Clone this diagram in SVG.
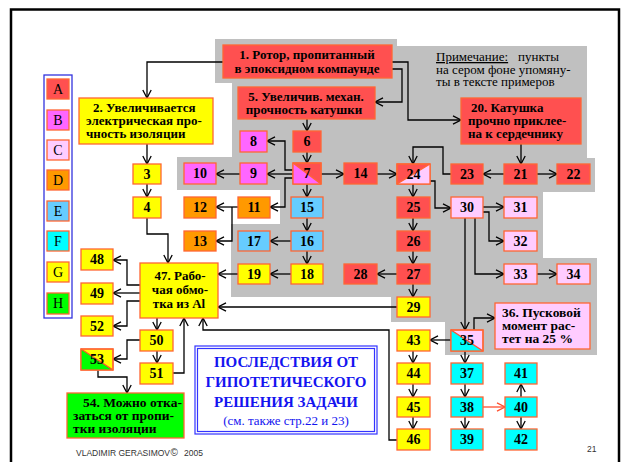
<svg xmlns="http://www.w3.org/2000/svg" width="621" height="462" viewBox="0 0 621 462">
<defs>
<style>
.bx{stroke:#ff6633;stroke-width:1.3}
.R{fill:#ff5050}.M{fill:#ff66ff}.P{fill:#ffccff}.O{fill:#ff9900}.E{fill:#66ccff}.C{fill:#00ffff}.Y{fill:#ffff00}.G{fill:#00ff00}
.n{font-family:"Liberation Serif",serif;font-weight:bold;font-size:14px;fill:#000;text-anchor:middle}
.t{font-family:"Liberation Serif",serif;font-weight:bold;font-size:13px;fill:#000}
.lg{font-family:"Liberation Serif",serif;font-size:14px;fill:#000;text-anchor:middle}
.note{font-family:"Liberation Serif",serif;font-size:13px;fill:#000}
.ti{font-family:"Liberation Serif",serif;font-weight:bold;font-size:15px;fill:#1414f0;text-anchor:middle}
.c path{fill:none;stroke:#000;stroke-width:1.3;marker-end:url(#a)}
.ft{font-family:"Liberation Sans",sans-serif;font-size:8.5px;fill:#333}
</style>
<marker id="a" markerUnits="userSpaceOnUse" markerWidth="10" markerHeight="10" viewBox="0 0 10 10" refX="9" refY="5" orient="auto"><path d="M1,0.8 L9,5 L1,9.2" fill="none" stroke="#000" stroke-width="1.3"/></marker>
<marker id="ar" markerUnits="userSpaceOnUse" markerWidth="10" markerHeight="10" viewBox="0 0 10 10" refX="9" refY="5" orient="auto"><path d="M1,0.8 L9,5 L1,9.2" fill="none" stroke="#ff5030" stroke-width="1.3"/></marker>
</defs>
<rect width="621" height="462" fill="#fff"/>
<rect x="11" y="9.5" width="608" height="470" fill="none" stroke="#000" stroke-width="2.5"/>
<polygon fill="#c0c0c0" points="215,39 397,39 397,46 587,46 587,158 595,158 595,192 543,192 543,258 597,258 597,355 445,355 445,322 391,322 391,297 231,297 231,224 280,224 280,190 177,190 177,157 232,157 232,83 215,83"/>

<g id="legend">
<rect x="44" y="75" width="28" height="243" fill="none" stroke="#3333dd" stroke-width="1.3"/>
<rect class="bx R" x="47" y="79" width="22" height="20"/><text class="lg" x="58" y="94">A</text>
<rect class="bx M" x="47" y="110" width="22" height="20"/><text class="lg" x="58" y="125">B</text>
<rect class="bx P" x="47" y="140" width="22" height="20"/><text class="lg" x="58" y="155">C</text>
<rect class="bx O" x="47" y="170" width="22" height="20"/><text class="lg" x="58" y="185">D</text>
<rect class="bx E" x="47" y="201" width="22" height="20"/><text class="lg" x="58" y="216">E</text>
<rect class="bx C" x="47" y="231" width="22" height="20"/><text class="lg" x="58" y="246">F</text>
<rect class="bx Y" x="47" y="262" width="22" height="20"/><text class="lg" x="58" y="277">G</text>
<rect class="bx G" x="47" y="293" width="22" height="21"/><text class="lg" x="58" y="308">H</text>
</g>

<g id="note">
<text class="note" x="436" y="61"><tspan text-decoration="underline">Примечание:</tspan><tspan x="518">пункты</tspan></text>
<text class="note" x="436" y="74">на сером фоне упомяну-</text>
<text class="note" x="436" y="86">ты в тексте примеров</text>
</g>

<g class="c" id="connectors">
<path d="M223,62 H147 V98"/>
<path d="M392,69 H402 V102 H375"/>
<path d="M392,62 H408 V120 H461"/>
<path d="M147,144 V164"/>
<path d="M147,184 V197"/>
<path d="M147,218 V234 H168 V263"/>
<path d="M307,119 V131"/>
<path d="M307,152 V163"/>
<path d="M293,170 H285 V141 H267"/>
<path d="M293,174 H267"/>
<path d="M293,178 H285 V207 H270"/>
<path d="M240,174 H216"/>
<path d="M238,207 H216"/>
<path d="M232,207 V241 H216"/>
<path d="M321,174 H344"/>
<path d="M377,174 H397"/>
<path d="M307,184 V197"/>
<path d="M307,218 V231"/>
<path d="M291,241 H270"/>
<path d="M307,251 V264"/>
<path d="M291,274 H270"/>
<path d="M238,274 H218"/>
<path d="M521,144 V164"/>
<path d="M537,174 H557"/>
<path d="M504,174 H483"/>
<path d="M451,174 H443 V147 H413 V164"/>
<path d="M413,184 V197"/>
<path d="M413,218 V231"/>
<path d="M413,251 V264"/>
<path d="M413,284 V297"/>
<path d="M397,274 H377"/>
<path d="M430,181 H435 V208 H451"/>
<path d="M483,207 H504"/>
<path d="M483,212 H489 V241 H504"/>
<path d="M475,218 V274 H504"/>
<path d="M537,274 H557"/>
<path d="M465,218 V330"/>
<path d="M474,330 V318 H495"/>
<path d="M451,340 H430"/>
<path d="M465,351 V363"/>
<path d="M465,384 V397"/>
<path d="M465,417 V429"/>
<path d="M483,407 H505" style="stroke:#ff5030;marker-end:url(#ar)"/>
<path d="M521,397 V384"/>
<path d="M521,417 V429"/>
<path d="M413,351 V363"/>
<path d="M413,384 V397"/>
<path d="M413,417 V429"/>
<path d="M397,440 H389 V330 H203 V318"/>
<path d="M397,307 H218"/>
<path d="M173,373 H184 V318"/>
<path d="M157,318 V330"/>
<path d="M157,351 V363"/>
<path d="M140,340 H127 V359 H113"/>
<path d="M98,370 V377 H127 V393"/>
<path d="M140,285 H127 V260 H113"/>
<path d="M140,293 H113"/>
<path d="M140,301 H127 V326 H113"/>
</g>

<g id="n1"><rect class="bx R" x="223" y="45" width="169" height="33"/><text class="t" x="307" y="59" text-anchor="middle">1. Ротор, пропитанный</text><text class="t" x="307" y="73" text-anchor="middle">в эпоксидном компаунде</text></g>
<g id="n2"><rect class="bx Y" x="79" y="98" width="134" height="46"/><text class="t" x="93" y="112">2. Увеличивается</text><text class="t" x="86" y="125">электрическая про-</text><text class="t" x="86" y="138">чность изоляции</text></g>
<g id="n3"><rect class="bx Y" x="133" y="164" width="28" height="20"/><text class="n" x="147" y="179">3</text></g>
<g id="n4"><rect class="bx Y" x="133" y="197" width="28" height="21"/><text class="n" x="147" y="212">4</text></g>
<g id="n5"><rect class="bx R" x="238" y="87" width="137" height="32"/><text class="t" x="306" y="101" text-anchor="middle">5. Увеличив. механ.</text><text class="t" x="304" y="114" text-anchor="middle">прочность катушки</text></g>
<g id="n6"><rect class="bx R" x="293" y="131" width="28" height="21"/><text class="n" x="307" y="146">6</text></g>
<g id="n7"><rect class="bx R" x="293" y="163" width="28" height="21"/><polygon class="M" points="293,163 293,184 321,184"/><line x1="293" y1="163" x2="321" y2="184" stroke="#ff6633" stroke-width="1.3"/><rect x="293" y="163" width="28" height="21" fill="none" stroke="#ff6633" stroke-width="1.3"/><text class="n" x="307" y="178">7</text></g>
<g id="n8"><rect class="bx M" x="240" y="131" width="27" height="21"/><text class="n" x="253.5" y="146">8</text></g>
<g id="n9"><rect class="bx M" x="240" y="163" width="27" height="21"/><text class="n" x="253.5" y="178">9</text></g>
<g id="n10"><rect class="bx M" x="184" y="163" width="32" height="21"/><text class="n" x="200" y="178">10</text></g>
<g id="n11"><rect class="bx O" x="238" y="197" width="32" height="21"/><text class="n" x="254" y="212">11</text></g>
<g id="n12"><rect class="bx O" x="184" y="197" width="32" height="21"/><text class="n" x="200" y="212">12</text></g>
<g id="n13"><rect class="bx O" x="184" y="231" width="32" height="20"/><text class="n" x="200" y="246">13</text></g>
<g id="n14"><rect class="bx R" x="344" y="163" width="33" height="21"/><text class="n" x="360.5" y="178">14</text></g>
<g id="n15"><rect class="bx E" x="291" y="197" width="32" height="21"/><text class="n" x="307" y="212">15</text></g>
<g id="n16"><rect class="bx E" x="291" y="231" width="32" height="20"/><text class="n" x="307" y="246">16</text></g>
<g id="n17"><rect class="bx E" x="238" y="231" width="32" height="20"/><text class="n" x="254" y="246">17</text></g>
<g id="n18"><rect class="bx Y" x="291" y="264" width="32" height="20"/><text class="n" x="307" y="279">18</text></g>
<g id="n19"><rect class="bx Y" x="238" y="264" width="32" height="20"/><text class="n" x="254" y="279">19</text></g>
<g id="n20"><rect class="bx R" x="461" y="98" width="120" height="46"/><text class="t" x="471" y="112">20. Катушка</text><text class="t" x="468" y="125">прочно приклее-</text><text class="t" x="468" y="138">на к сердечнику</text></g>
<g id="n21"><rect class="bx R" x="504" y="164" width="33" height="20"/><text class="n" x="520.5" y="179">21</text></g>
<g id="n22"><rect class="bx R" x="557" y="164" width="33" height="20"/><text class="n" x="573.5" y="179">22</text></g>
<g id="n23"><rect class="bx R" x="451" y="164" width="32" height="20"/><text class="n" x="467" y="179">23</text></g>
<g id="n24"><rect class="bx R" x="397" y="164" width="33" height="20"/><polygon class="P" points="430,164 430,184 397,184"/><line x1="397" y1="184" x2="430" y2="164" stroke="#ff6633" stroke-width="1.3"/><rect x="397" y="164" width="33" height="20" fill="none" stroke="#ff6633" stroke-width="1.3"/><text class="n" x="413.5" y="179">24</text></g>
<g id="n25"><rect class="bx R" x="397" y="197" width="33" height="21"/><text class="n" x="413.5" y="212">25</text></g>
<g id="n26"><rect class="bx R" x="397" y="231" width="33" height="20"/><text class="n" x="413.5" y="246">26</text></g>
<g id="n27"><rect class="bx R" x="397" y="264" width="33" height="20"/><text class="n" x="413.5" y="279">27</text></g>
<g id="n28"><rect class="bx R" x="344" y="264" width="33" height="20"/><text class="n" x="360.5" y="279">28</text></g>
<g id="n29"><rect class="bx Y" x="397" y="297" width="33" height="20"/><text class="n" x="413.5" y="312">29</text></g>
<g id="n30"><rect class="bx P" x="451" y="197" width="32" height="21"/><text class="n" x="467" y="212">30</text></g>
<g id="n31"><rect class="bx P" x="504" y="197" width="33" height="21"/><text class="n" x="520.5" y="212">31</text></g>
<g id="n32"><rect class="bx P" x="504" y="231" width="33" height="20"/><text class="n" x="520.5" y="246">32</text></g>
<g id="n33"><rect class="bx P" x="504" y="264" width="33" height="20"/><text class="n" x="520.5" y="279">33</text></g>
<g id="n34"><rect class="bx P" x="557" y="264" width="33" height="20"/><text class="n" x="573.5" y="279">34</text></g>
<g id="n35"><rect class="bx P" x="451" y="330" width="32" height="21"/><polygon class="C" points="451,330 451,351 483,351"/><line x1="451" y1="330" x2="483" y2="351" stroke="#ff5030" stroke-width="1.3"/><rect x="451" y="330" width="32" height="21" fill="none" stroke="#ff6633" stroke-width="1.3"/><text class="n" x="467" y="345">35</text></g>
<g id="n36"><rect class="bx P" x="495" y="303" width="95" height="46"/><text class="t" x="502" y="317" style="font-size:13.5px">36. Пусковой</text><text class="t" x="502" y="330" style="font-size:13.5px">момент рас-</text><text class="t" x="502" y="343" style="font-size:13.5px">тет на 25 %</text></g>
<g id="n37"><rect class="bx C" x="451" y="363" width="32" height="21"/><text class="n" x="467" y="378">37</text></g>
<g id="n38"><rect class="bx C" x="451" y="397" width="32" height="20"/><text class="n" x="467" y="412">38</text></g>
<g id="n39"><rect class="bx C" x="451" y="429" width="32" height="21"/><text class="n" x="467" y="444">39</text></g>
<g id="n40"><rect class="bx C" x="505" y="397" width="32" height="20"/><text class="n" x="521" y="412">40</text></g>
<g id="n41"><rect class="bx C" x="505" y="363" width="32" height="21"/><text class="n" x="521" y="378">41</text></g>
<g id="n42"><rect class="bx C" x="505" y="429" width="32" height="21"/><text class="n" x="521" y="444">42</text></g>
<g id="n43"><rect class="bx Y" x="397" y="330" width="33" height="21"/><text class="n" x="413.5" y="345">43</text></g>
<g id="n44"><rect class="bx Y" x="397" y="363" width="33" height="21"/><text class="n" x="413.5" y="378">44</text></g>
<g id="n45"><rect class="bx Y" x="397" y="397" width="33" height="20"/><text class="n" x="413.5" y="412">45</text></g>
<g id="n46"><rect class="bx Y" x="397" y="429" width="33" height="21"/><text class="n" x="413.5" y="444">46</text></g>
<g id="n47"><rect class="bx Y" x="140" y="263" width="78" height="55"/><text class="t" x="180" y="280" text-anchor="middle">47. Рабо-</text><text class="t" x="180" y="294" text-anchor="middle">чая обмо-</text><text class="t" x="179" y="308" text-anchor="middle">тка из Al</text></g>
<g id="n48"><rect class="bx Y" x="81" y="249" width="32" height="21"/><text class="n" x="97" y="264">48</text></g>
<g id="n49"><rect class="bx Y" x="81" y="283" width="32" height="21"/><text class="n" x="97" y="298">49</text></g>
<g id="n50"><rect class="bx Y" x="140" y="330" width="33" height="21"/><text class="n" x="156.5" y="345">50</text></g>
<g id="n51"><rect class="bx Y" x="140" y="363" width="33" height="21"/><text class="n" x="156.5" y="378">51</text></g>
<g id="n52"><rect class="bx Y" x="81" y="316" width="32" height="20"/><text class="n" x="97" y="331">52</text></g>
<g id="n53"><rect class="bx Y" x="81" y="349" width="32" height="21"/><polygon class="G" points="81,349 81,370 113,370"/><line x1="81" y1="349" x2="113" y2="370" stroke="#ff5030" stroke-width="1.3"/><rect x="81" y="349" width="32" height="21" fill="none" stroke="#ff6633" stroke-width="1.3"/><text class="n" x="97" y="364">53</text></g>
<g id="n54"><rect class="bx G" x="67" y="393" width="117" height="45"/><text class="t" x="83" y="407" style="font-size:13.5px">54. Можно отка-</text><text class="t" x="73" y="420" style="font-size:13.5px">заться от пропи-</text><text class="t" x="73" y="433" style="font-size:13.5px">тки изоляции</text></g>

<g id="title">
<rect x="195" y="346" width="182" height="88" fill="#fff" stroke="#3333ff" stroke-width="1.2"/>
<rect x="197.5" y="348.5" width="177" height="83" fill="none" stroke="#3333ff" stroke-width="1.2"/>
<text class="ti" x="286" y="367">ПОСЛЕДСТВИЯ ОТ</text>
<text class="ti" x="286" y="387">ГИПОТЕТИЧЕСКОГО</text>
<text class="ti" x="286" y="407">РЕШЕНИЯ ЗАДАЧИ</text>
<text x="286" y="425" text-anchor="middle" style="font-family:'Liberation Serif',serif;font-size:13px;fill:#1414f0">(см. также стр.22 и 23)</text>
</g>

<text class="ft" x="76" y="456">VLADIMIR GERASIMOV</text>
<text class="ft" x="170.5" y="456" style="font-size:10px">©</text>
<text class="ft" x="184" y="456">2005</text>
<text class="ft" x="587" y="452">21</text>
</svg>
